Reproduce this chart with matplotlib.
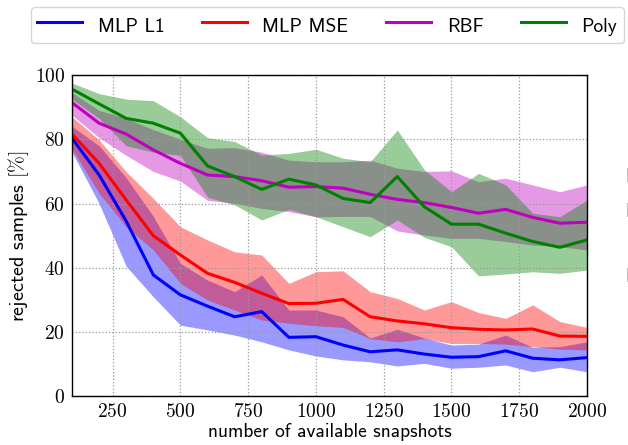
import numpy as np
import matplotlib
matplotlib.use('Agg')
import matplotlib.pyplot as plt

plt.rcParams['mathtext.fontset'] = 'cm'
plt.rcParams['axes.formatter.use_mathtext'] = True

# snapshots on x axis
snapshots = [100, 200, 300, 400, 500, 600, 700, 800, 900, 1000,
             1100, 1200, 1300, 1400, 1500, 1600, 1700, 1800, 1900, 2000]

# MLP L1 (blue)
l1_mean = [80.3, 68.9, 54.5, 37.8, 31.6, 28.1, 24.8, 26.4, 18.4, 18.6,
           16.0, 13.9, 14.5, 13.2, 12.2, 12.4, 14.2, 11.9, 11.4, 12.1]
l1_upper = [84.0, 78.0, 68.0, 56.0, 41.4, 36.2, 32.6, 37.8, 26.9, 26.9,
            24.8, 18.2, 20.9, 18.2, 16.0, 16.3, 19.1, 15.3, 15.5, 17.0]
l1_lower = [76.0, 60.0, 40.5, 31.0, 22.2, 20.7, 19.1, 17.0, 14.5, 12.6,
            11.4, 10.8, 9.5, 10.3, 8.8, 9.1, 9.8, 7.7, 9.1, 7.7]

# MLP MSE (red)
mse_mean = [81.6, 72.5, 61.1, 50.0, 44.0, 38.3, 35.5, 32.1, 28.9, 29.0,
            30.2, 24.8, 23.5, 22.6, 21.4, 20.9, 20.7, 21.0, 18.8, 18.7]
mse_upper = [87.0, 79.8, 69.9, 61.6, 52.8, 48.7, 45.0, 44.0, 35.2, 38.8,
             39.1, 32.6, 30.5, 26.9, 29.5, 26.1, 24.3, 28.5, 23.3, 21.5]
mse_lower = [77.0, 63.2, 52.8, 45.6, 35.2, 30.0, 26.9, 23.8, 22.8, 22.0,
             21.5, 18.0, 17.0, 18.0, 16.5, 16.5, 16.3, 15.5, 14.7, 14.5]

# RBF (magenta)
rbf_mean = [91.4, 85.0, 81.6, 76.7, 72.5, 68.9, 68.4, 67.1, 65.1, 65.3,
            64.8, 62.9, 61.3, 60.3, 58.8, 57.0, 58.2, 55.7, 53.9, 54.2]
rbf_upper = [94.5, 89.0, 86.5, 83.0, 80.0, 77.2, 77.4, 76.0, 73.5, 73.0,
             73.0, 73.5, 71.0, 70.0, 70.2, 66.8, 67.9, 65.8, 63.7, 65.8]
rbf_lower = [87.5, 80.5, 75.0, 70.0, 67.0, 61.0, 60.1, 58.5, 57.5, 55.9,
             56.0, 56.0, 51.5, 50.2, 49.2, 49.2, 48.2, 47.1, 46.6, 45.6]

# Poly (green)
poly_mean = [95.6, 91.0, 86.5, 85.0, 81.9, 71.7, 68.4, 64.4, 67.6, 65.8,
             61.6, 60.3, 68.4, 59.0, 53.6, 53.6, 50.8, 48.2, 46.4, 48.7]
poly_upper = [97.5, 94.2, 92.5, 92.0, 87.0, 80.5, 79.3, 75.1, 75.6, 76.9,
              74.1, 73.0, 82.9, 70.5, 63.7, 69.4, 65.8, 57.0, 55.9, 61.1]
poly_lower = [92.5, 86.5, 78.0, 76.0, 75.0, 62.0, 59.6, 54.9, 58.2, 55.9,
              52.8, 49.7, 54.9, 49.5, 46.6, 37.5, 38.1, 38.8, 38.3, 39.3]

series = [('MLP L1', 'b', l1_mean, l1_lower, l1_upper),
          ('MLP MSE', 'r', mse_mean, mse_lower, mse_upper),
          ('RBF', 'm', rbf_mean, rbf_lower, rbf_upper),
          ('Poly', 'g', poly_mean, poly_lower, poly_upper)]

fig = plt.figure(figsize=(6.28, 4.45), dpi=100)
ax = fig.add_axes([0.1147, 0.109, 0.82, 0.7225])

# bands first, then lines on top
for name, col, mean, lo, hi in series:
    ax.fill_between(snapshots, lo, hi, color=col, alpha=0.4, linewidth=0)
for name, col, mean, lo, hi in series:
    ax.plot(snapshots, mean, color=col, lw=2.2, label=name)

ax.set_xlim(100, 2000)
ax.set_ylim(0, 100)
ax.set_xticks([250, 500, 750, 1000, 1250, 1500, 1750, 2000])
ax.set_yticks([0, 20, 40, 60, 80, 100])
ax.grid(True, color='0.6', linestyle=':', linewidth=0.9)
ax.tick_params(length=0, labelsize=14, pad=5)
for lbl in ax.get_xticklabels() + ax.get_yticklabels():
    lbl.set_fontfamily('cmr10')
for sp in ax.spines.values():
    sp.set_linewidth(1.0)

ax.set_xlabel('number of available snapshots', family='cmss10', fontsize=14, labelpad=1)
ax.set_ylabel(r'rejected samples $[\%]$', family='cmss10', fontsize=14.5, labelpad=3)

handles, labels = ax.get_legend_handles_labels()
fig.legend(handles, labels, loc='upper left', bbox_to_anchor=(31/628, 1-7/445),
           borderaxespad=0, ncol=4, prop={'family': 'cmss10', 'size': 14},
           handlelength=2.3, handleheight=1.5, handletextpad=0.8,
           columnspacing=1.95, frameon=True, fancybox=True, edgecolor='0.8',
           borderpad=0.32)

# pieces of a neighbouring panel, cut off at the right edge
for yy in [177.5, 211.5, 276.5]:
    fig.text(625.5/628, 1-yy/445, 'E', family='cmss10', fontsize=14,
             ha='left', va='center')

plt.savefig('out.png', dpi=100)
